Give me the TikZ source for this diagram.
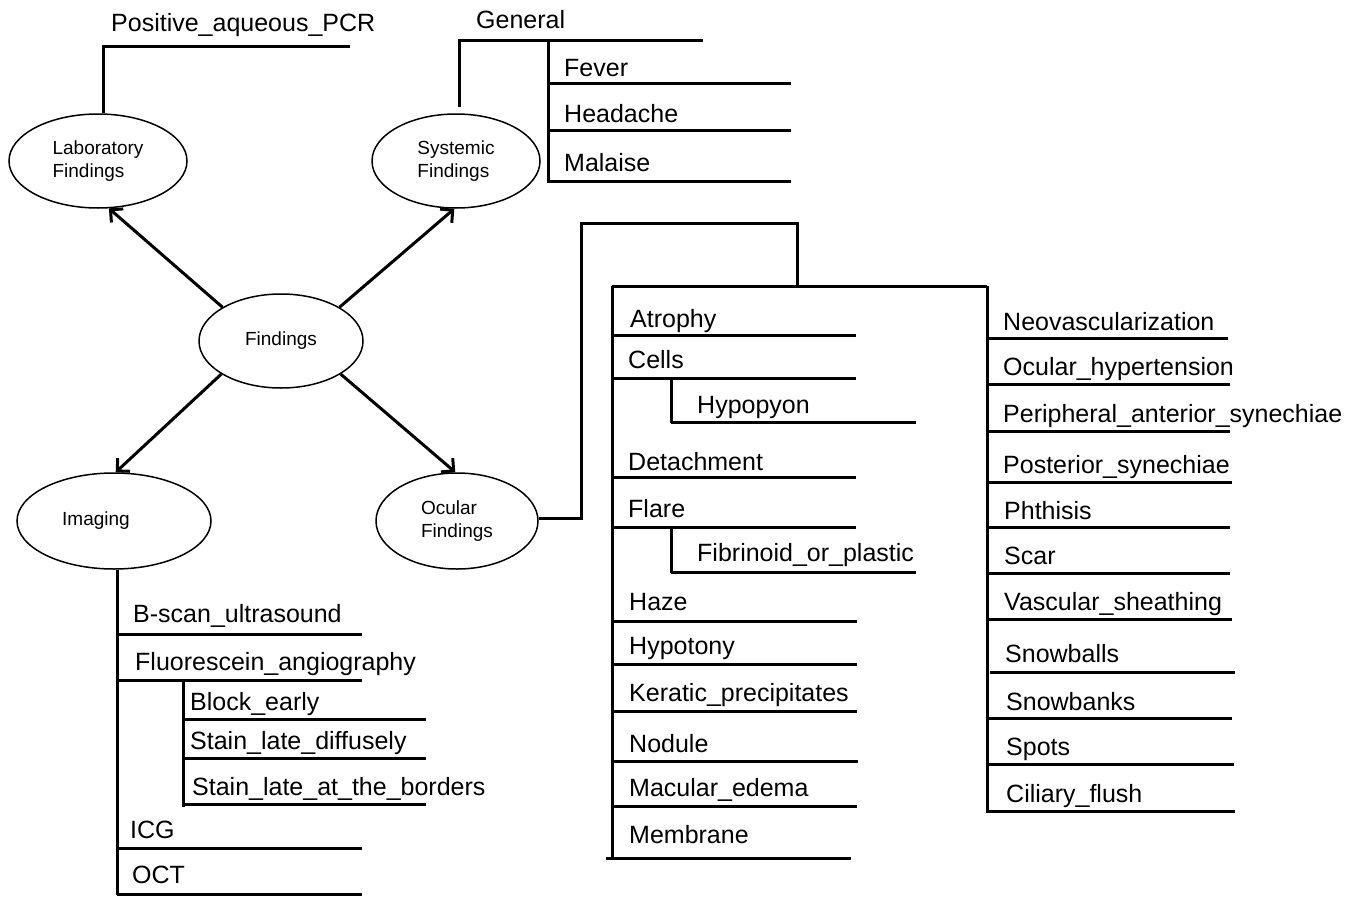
\documentclass[tikz,border=0pt]{standalone}
\usepackage{fontspec}
\setmainfont{Liberation Sans}
\usetikzlibrary{arrows.meta,shapes.geometric}
\begin{document}
\begin{tikzpicture}[x=1pt,y=-1pt,
  lbl/.style={anchor=base west,inner sep=0pt,font=\fontsize{25}{30}\selectfont},
  oval/.style={ellipse,draw,line width=1.5pt,inner sep=0pt,align=left,font=\fontsize{19}{23}\selectfont},
  ln/.style={line width=3pt},
  arr/.style={line width=3pt,-{Straight Barb[length=9pt,width=18pt,line width=3pt]}}
]
\useasboundingbox (0,0) rectangle (1364,899);

% ellipses
\node[oval,minimum width=178pt,minimum height=94pt] (lab) at (98,161) {Laboratory\\Findings};
\node[oval,minimum width=168pt,minimum height=94pt] (sys) at (456,161) {Systemic\\Findings};
\node[oval,minimum width=164pt,minimum height=94pt] (find) at (281,341) {Findings};
\node[oval,minimum width=194pt,minimum height=96pt] (img) at (114,521) {\hspace*{-36pt}Imaging};
\node[oval,minimum width=162pt,minimum height=96pt] (ocu) at (457,521) {Ocular\\Findings};

% arrows
\draw[arr] (find.150) -- (lab.-77);
\draw[arr] (find.30) -- (sys.-92);
\draw[arr] (find.209) -- (img.88);
\draw[arr] (find.-29) -- (ocu.92);

% laboratory
\node[lbl] (pcr) at (111,32) {Positive\_aqueous\_PCR};
\coordinate (labtop) at (103,47);
\draw[ln] (lab.north -| labtop) -- (labtop) -- (350,47);

% systemic
\node[lbl] (gen) at (476,29) {General};
\node[lbl] (fev) at (564,76) {Fever};
\node[lbl] (head) at (564,122) {Headache};
\node[lbl] (mal) at (564,171) {Malaise};
\coordinate (systop) at (459,41);
\draw[ln] ([yshift=6pt]sys.north -| systop) -- (systop) -- (703,41);
\draw[ln] (548,41) -- (548,183);
\draw[ln] (548,83) -- (791,83);
\draw[ln] (548,130) -- (791,130);
\draw[ln] (548,181) -- (791,181);

% imaging
\node[lbl] (bscan) at (133,622) {B-scan\_ultrasound};
\node[lbl] (fluo) at (135,670) {Fluorescein\_angiography};
\node[lbl] (block) at (190,710) {Block\_early};
\node[lbl] (sdiff) at (190,749) {Stain\_late\_diffusely};
\node[lbl] (sbord) at (192,795) {Stain\_late\_at\_the\_borders};
\node[lbl] (icg) at (130,838) {ICG};
\node[lbl] (oct) at (132,883) {OCT};
\coordinate (imgbot) at (117,895);
\draw[ln] (img.south -| imgbot) -- (imgbot);
\draw[ln] (117,634) -- (362,634);
\draw[ln] (117,680) -- (362,680);
\draw[ln] (183,680) -- (183,807);
\draw[ln] (183,719) -- (426,719);
\draw[ln] (183,758) -- (426,758);
\draw[ln] (183,804) -- (426,804);
\draw[ln] (117,848) -- (362,848);
\draw[ln] (117,894) -- (362,894);

% ocular
\coordinate (oc1) at (581,518);
\draw[ln] (ocu.east |- oc1) -- (oc1) -- (581,223) -- (797,223) -- (797,286);
\draw[ln] (612,286) -- (987,286);
\draw[ln] (612,286) -- (612,858);
\draw[ln] (987,286) -- (987,813);

% left column
\node[lbl] (atr) at (630,327) {Atrophy};
\node[lbl] (cel) at (628,368) {Cells};
\node[lbl] (hyp) at (697,413) {Hypopyon};
\node[lbl] (det) at (628,470) {Detachment};
\node[lbl] (fla) at (628,517) {Flare};
\node[lbl] (fib) at (697,561) {Fibrinoid\_or\_plastic};
\node[lbl] (haz) at (629,610) {Haze};
\node[lbl] (hpt) at (629,654) {Hypotony};
\node[lbl] (ker) at (629,701) {Keratic\_precipitates};
\node[lbl] (nod) at (629,752) {Nodule};
\node[lbl] (mac) at (629,796) {Macular\_edema};
\node[lbl] (mem) at (629,843) {Membrane};
\draw[ln] (612,335) -- (856,335);
\draw[ln] (612,378) -- (856,378);
\draw[ln] (671,378) -- (671,423);
\draw[ln] (671,422) -- (916,422);
\draw[ln] (612,477) -- (856,477);
\draw[ln] (612,527) -- (856,527);
\draw[ln] (671,527) -- (671,573);
\draw[ln] (671,572) -- (916,572);
\draw[ln] (612,621) -- (857,621);
\draw[ln] (612,664) -- (857,664);
\draw[ln] (612,711) -- (857,711);
\draw[ln] (612,761) -- (858,761);
\draw[ln] (612,806) -- (857,806);
\draw[ln] (606,858) -- (851,858);

% right column
\node[lbl] (neo) at (1003,330) {Neovascularization};
\node[lbl] (ohy) at (1003,375) {Ocular\_hypertension};
\node[lbl] (pas) at (1003,422) {Peripheral\_anterior\_synechiae};
\node[lbl] (pos) at (1003,473) {Posterior\_synechiae};
\node[lbl] (pht) at (1004,519) {Phthisis};
\node[lbl] (sca) at (1004,564) {Scar};
\node[lbl] (vas) at (1004,610) {Vascular\_sheathing};
\node[lbl] (sba) at (1005,662) {Snowballs};
\node[lbl] (sbk) at (1006,710) {Snowbanks};
\node[lbl] (spo) at (1006,755) {Spots};
\node[lbl] (cil) at (1006,802) {Ciliary\_flush};
\draw[ln] (987,338) -- (1228,338);
\draw[ln] (987,384) -- (1230,384);
\draw[ln] (987,431) -- (1230,431);
\draw[ln] (987,482) -- (1232,482);
\draw[ln] (987,527) -- (1230,527);
\draw[ln] (987,573) -- (1230,573);
\draw[ln] (987,619) -- (1232,619);
\draw[ln] (990,672) -- (1235,672);
\draw[ln] (987,718) -- (1232,718);
\draw[ln] (987,764) -- (1234,764);
\draw[ln] (987,811) -- (1235,811);
\end{tikzpicture}
\end{document}
